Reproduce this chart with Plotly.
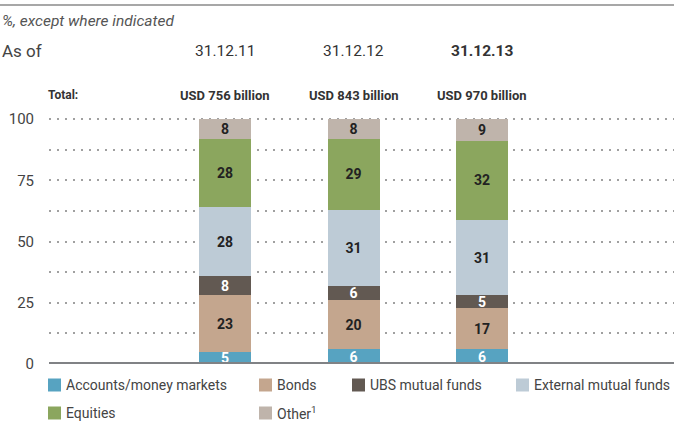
import plotly.graph_objects as go

dates = ["31.12.11", "31.12.12", "31.12.13"]
totals = ["USD 756 billion", "USD 843 billion", "USD 970 billion"]
series_names = ["Accounts/money markets", "Bonds", "UBS mutual funds",
                "External mutual funds", "Equities", "Other<sup>1</sup>"]
accounts = [5, 6, 6]
bonds = [23, 20, 17]
ubs_funds = [8, 6, 5]
external_funds = [28, 31, 31]
equities = [28, 29, 32]
other = [8, 8, 9]
series_values = [accounts, bonds, ubs_funds, external_funds, equities, other]
colors = ["#57A3C1", "#C4A68E", "#625952", "#BDCBD6", "#8BA65E", "#BFB4AB"]
label_colors = ["#FFFFFF", "#222222", "#FFFFFF", "#222222", "#222222", "#222222"]
y_tickvals = [0, 12.5, 25, 37.5, 50, 62.5, 75, 87.5, 100]
y_ticktext = ["0", "", "25", "", "50", "", "75", "", "100"]

FONT = "Roboto, Liberation Sans, sans-serif"
W, H = 674, 424
ML, MR, MT, MB = 49, 0, 118, 60
PW, PH = W - ML - MR, H - MT - MB
PAD = 3  # annotation inner padding in px


def px(x):
    return (x - ML) / PW


def py(y):
    return (H - MB - y) / PH


fig = go.Figure()
for name, vals, col, lc in zip(series_names, series_values, colors, label_colors):
    fig.add_trace(go.Bar(
        x=dates, y=vals, name=name, marker=dict(color=col, line=dict(width=0)),
        width=0.405, text=[str(v) for v in vals], textposition="inside",
        insidetextanchor="middle", textangle=0,
        textfont=dict(color=lc, size=14, family=FONT, weight="bold"),
        showlegend=False, hoverinfo="skip", cliponaxis=False,
    ))

fig.update_layout(
    width=W, height=H, barmode="stack",
    margin=dict(l=ML, r=MR, t=MT, b=MB, pad=0),
    paper_bgcolor="white", plot_bgcolor="white",
    font=dict(family=FONT, color="#444444"),
    uniformtext=dict(minsize=14, mode="show"),
    xaxis=dict(range=[-1.37, 3.494], showticklabels=False, showgrid=False,
               zeroline=False, ticks=""),
    yaxis=dict(range=[0, 100.5], tickvals=y_tickvals, ticktext=y_ticktext,
               showgrid=True, gridcolor="#A0A0A0", griddash="1.5px,6.5px", gridwidth=1.5,
               zeroline=False, ticks="", ticklabelstandoff=14,
               tickfont=dict(size=15, color="#444444", family=FONT)),
)

# baseline
fig.add_shape(type="line", xref="paper", yref="y", x0=0, x1=1, y0=0, y1=0,
              line=dict(color="#808285", width=4))
# top rule
fig.add_shape(type="line", xref="paper", yref="paper", x0=px(0), x1=px(W),
              y0=py(5), y1=py(5), line=dict(color="#8A8A8A", width=1.5),
              layer="above")

fig.add_annotation(text="<i>%, except where indicated</i>", xref="paper", yref="paper",
                   x=px(3 - PAD), y=py(21), xanchor="left", yanchor="middle",
                   showarrow=False, font=dict(size=15.5, color="#555555"))
fig.add_annotation(text="As of", xref="paper", yref="paper",
                   x=px(3 - PAD), y=py(51), xanchor="left", yanchor="middle",
                   showarrow=False, font=dict(size=17, color="#444444"))
fig.add_annotation(text="<b>Total:</b>", xref="paper", yref="paper",
                   x=px(49 - PAD), y=py(95), xanchor="left", yanchor="middle",
                   showarrow=False, font=dict(size=12, color="#333333"))
for i, (d, t) in enumerate(zip(dates, totals)):
    dtxt = f"<b>{d}</b>" if i == len(dates) - 1 else d
    fig.add_annotation(text=dtxt, x=d, xref="x", yref="paper", y=py(51),
                       xanchor="center", yanchor="middle", showarrow=False,
                       font=dict(size=15.5, color="#333333"))
    fig.add_annotation(text=f"<b>{t}</b>", x=d, xref="x", yref="paper", y=py(95),
                       xanchor="center", yanchor="middle", showarrow=False,
                       font=dict(size=13, color="#333333"))

# manual legend
leg_pos = [(48, 385), (259, 385), (352, 385), (516, 385), (48, 413), (259, 413)]
for name, col, (lx, ly) in zip(series_names, colors, leg_pos):
    fig.add_shape(type="rect", xref="paper", yref="paper",
                  x0=px(lx), x1=px(lx + 13), y0=py(ly - 6.5), y1=py(ly + 6.5),
                  fillcolor=col, line=dict(width=0))
    fig.add_annotation(text=name, xref="paper", yref="paper", x=px(lx + 19 - PAD), y=py(ly),
                       xanchor="left", yanchor="middle", showarrow=False,
                       font=dict(size=14, color="#444444"))

fig.write_html("out.html", config={"displayModeBar": False},
               post_script="document.body.style.margin='0';document.body.style.padding='0';")
